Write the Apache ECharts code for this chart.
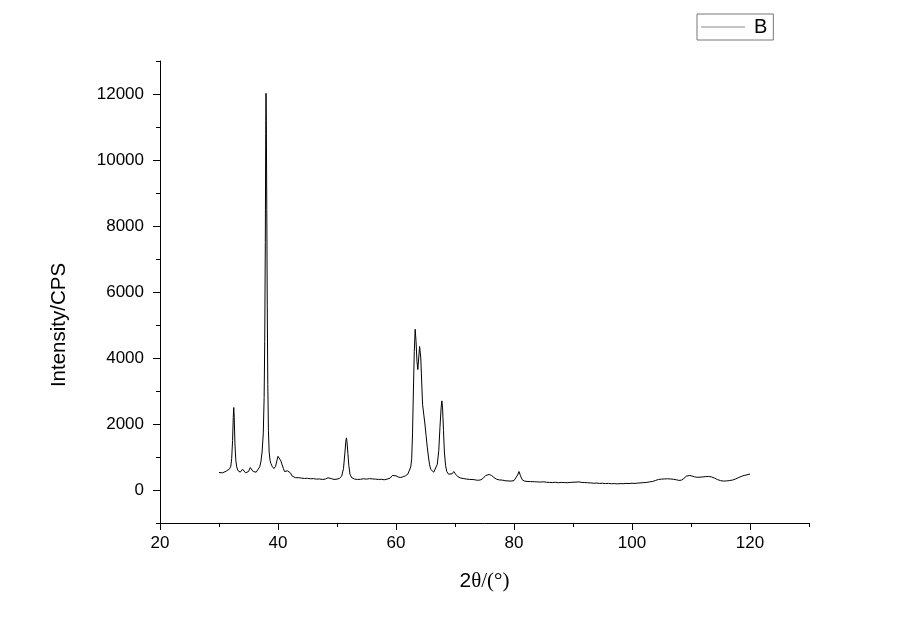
<!DOCTYPE html>
<html>
<head>
<meta charset="utf-8">
<script src="https://cdn.jsdelivr.net/npm/echarts@6/dist/echarts.min.js"></script>
<style>html,body{margin:0;padding:0;background:#fff;}#chart{width:900px;height:628px;}</style>
</head>
<body>
<div id="chart"></div>
<script>
// 2θ (deg) , intensity (CPS) pairs
var pattern = [
[30.0,530],[30.3,545],[30.6,520],[30.9,560],[31.2,570],[31.5,610],[31.8,640],[32.0,720],[32.15,950],[32.3,1500],
[32.42,2200],[32.5,2500],[32.58,2200],[32.7,1400],[32.85,900],[33.0,700],[33.2,590],[33.4,560],[33.6,540],[33.8,600],
[34.0,630],[34.2,580],[34.5,520],[34.8,510],[35.0,560],[35.3,680],[35.5,660],[35.8,560],[36.0,510],[36.3,540],
[36.6,600],[36.9,700],[37.1,850],[37.3,1150],[37.5,1700],[37.65,2800],[37.75,4500],[37.85,7500],[37.92,10800],[37.97,12020],
[38.02,11200],[38.1,8500],[38.18,5600],[38.27,3200],[38.38,1800],[38.5,1150],[38.65,900],[38.8,800],[39.0,720],[39.3,650],
[39.6,720],[39.8,880],[40.0,1020],[40.15,1060],[40.3,1000],[40.5,880],[40.7,760],[40.9,660],[41.1,560],[41.3,520],
[41.6,580],[41.85,640],[42.1,520],[42.4,420],[42.7,390],[43.0,370],[43.5,375],[44.0,360],[44.5,350],[45.0,355],
[45.5,340],[46.0,345],[46.5,330],[47.0,335],[47.5,320],[48.0,330],[48.5,370],[48.8,390],[49.1,340],[49.5,320],
[50.0,330],[50.4,350],[50.8,420],[51.1,650],[51.35,1150],[51.5,1480],[51.6,1580],[51.7,1450],[51.85,1100],[52.0,750],
[52.2,480],[52.5,370],[53.0,330],[53.5,320],[54.0,325],[54.5,340],[55.0,330],[55.5,345],[56.0,335],[56.5,330],
[57.0,320],[57.5,325],[58.0,310],[58.5,330],[59.0,360],[59.4,440],[59.7,500],[60.0,430],[60.4,390],[60.8,380],
[61.2,400],[61.6,430],[62.0,480],[62.3,540],[62.5,700],[62.66,950],[62.8,1700],[62.95,3000],[63.1,4200],[63.25,4870],
[63.4,4500],[63.55,3900],[63.7,3650],[63.85,4000],[64.0,4350],[64.1,4400],[64.2,4000],[64.35,3300],[64.5,2600],[64.7,2300],
[64.9,2000],[65.1,1650],[65.3,1300],[65.5,1000],[65.7,760],[65.9,620],[66.1,570],[66.4,540],[66.7,580],[67.0,780],
[67.25,1200],[67.45,1900],[67.65,2500],[67.78,2700],[67.9,2450],[68.05,1800],[68.2,1150],[68.4,750],[68.6,560],[68.9,480],
[69.2,460],[69.5,490],[69.8,560],[70.1,480],[70.5,400],[71.0,360],[71.5,345],[72.0,330],[72.5,320],[72.8,340],
[73.2,315],[73.6,300],[74.0,295],[74.4,310],[74.8,360],[75.2,440],[75.5,490],[75.8,470],[76.2,440],[76.6,380],
[77.0,330],[77.5,305],[78.0,300],[78.5,280],[79.0,275],[79.5,270],[80.0,285],[80.3,330],[80.6,450],[80.85,560],
[81.1,430],[81.4,310],[81.8,270],[82.2,260],[82.8,255],[83.5,250],[84.0,245],[84.5,240],[85.0,250],[85.5,235],
[86.0,230],[86.5,225],[87.0,235],[87.5,220],[88.0,230],[88.5,225],[89.0,220],[89.5,230],[90.0,235],[90.5,240],
[91.0,245],[91.5,230],[92.0,225],[92.5,220],[93.0,215],[93.5,205],[94.0,210],[94.5,200],[95.0,205],[95.5,195],
[96.0,200],[96.5,190],[97.0,195],[97.5,185],[98.0,195],[98.5,190],[99.0,200],[99.5,195],[100.0,205],[100.5,200],
[101.0,210],[101.5,215],[102.0,225],[102.5,230],[103.0,245],[103.5,260],[104.0,290],[104.5,320],[105.0,330],[105.5,335],
[106.0,340],[106.5,335],[107.0,325],[107.5,310],[108.0,290],[108.4,300],[108.8,350],[109.2,420],[109.5,475],[109.8,440],
[110.2,420],[110.6,400],[111.0,385],[111.5,390],[112.0,395],[112.5,405],[113.0,410],[113.5,395],[114.0,360],[114.5,315],
[115.0,285],[115.5,270],[116.0,275],[116.5,285],[117.0,300],[117.5,330],[118.0,370],[118.5,410],[119.0,440],[119.5,460],
[120.0,485]
];
var xMajorTicks = [20, 40, 60, 80, 100, 120];
var yMajorTicks = [0, 2000, 4000, 6000, 8000, 10000, 12000];
var seriesName = 'B';

var font = 'Liberation Sans, Arial, sans-serif';
var plain = function (v) { return String(v); };
var chart = echarts.init(document.getElementById('chart'), null, {renderer: 'canvas'});
chart.setOption({
  backgroundColor: '#fff',
  animation: false,
  grid: {left: 160, right: 91, top: 61, bottom: 105, containLabel: false},
  legend: {
    left: 697, top: 14,
    padding: [3, 6, 3, 4],
    borderColor: '#777', borderWidth: 1,
    itemWidth: 44, itemHeight: 1, itemGap: 5,
    data: [{name: seriesName, icon: 'rect', itemStyle: {color: '#8a8a8a'}}],
    textStyle: {fontFamily: font, fontSize: 20, color: '#000', padding: [0,0,0,4]}
  },
  xAxis: [
    {
      type: 'value', min: 20, max: 130, interval: 10, position: 'bottom',
      axisLine: {show: true, onZero: false, lineStyle: {color: '#000', width: 1}},
      axisTick: {show: true, length: 4, lineStyle: {color: '#000'}},
      axisLabel: {show: false},
      splitLine: {show: false}
    },
    {
      type: 'value', min: 20, max: 130, position: 'bottom',
      axisLine: {show: false, onZero: false},
      axisTick: {show: true, length: 7, customValues: xMajorTicks, lineStyle: {color: '#000'}},
      axisLabel: {show: true, customValues: xMajorTicks, formatter: plain, fontFamily: font, fontSize: 17, color: '#000', margin: 12},
      splitLine: {show: false},
      name: '{a|2}{b|θ/(°)}', nameLocation: 'middle', nameGap: 48,
      nameTextStyle: {rich: {
        a: {fontFamily: font, fontSize: 21, color: '#000'},
        b: {fontFamily: 'Liberation Serif, Times New Roman, serif', fontSize: 21, color: '#000'}
      }}
    }
  ],
  yAxis: [
    {
      type: 'value', min: -1000, max: 13000, interval: 1000, position: 'left',
      axisLine: {show: true, onZero: false, lineStyle: {color: '#000', width: 1}},
      axisTick: {show: true, length: 4, lineStyle: {color: '#000'}},
      axisLabel: {show: false},
      splitLine: {show: false}
    },
    {
      type: 'value', min: -1000, max: 13000, position: 'left',
      axisLine: {show: false, onZero: false},
      axisTick: {show: true, length: 7, customValues: yMajorTicks, lineStyle: {color: '#000'}},
      axisLabel: {show: true, customValues: yMajorTicks, formatter: plain, fontFamily: font, fontSize: 17, color: '#000', margin: 16},
      splitLine: {show: false},
      name: 'Intensity/CPS', nameLocation: 'middle', nameGap: 90,
      nameTextStyle: {fontFamily: font, fontSize: 20.5, color: '#000', padding: [0, 66, 0, 0]}
    }
  ],
  series: [{
    name: seriesName, type: 'line', xAxisIndex: 0, yAxisIndex: 0,
    data: pattern, showSymbol: false, symbol: 'none',
    lineStyle: {color: '#000', width: 1},
    itemStyle: {color: '#000'}
  }]
});
</script>
</body>
</html>
